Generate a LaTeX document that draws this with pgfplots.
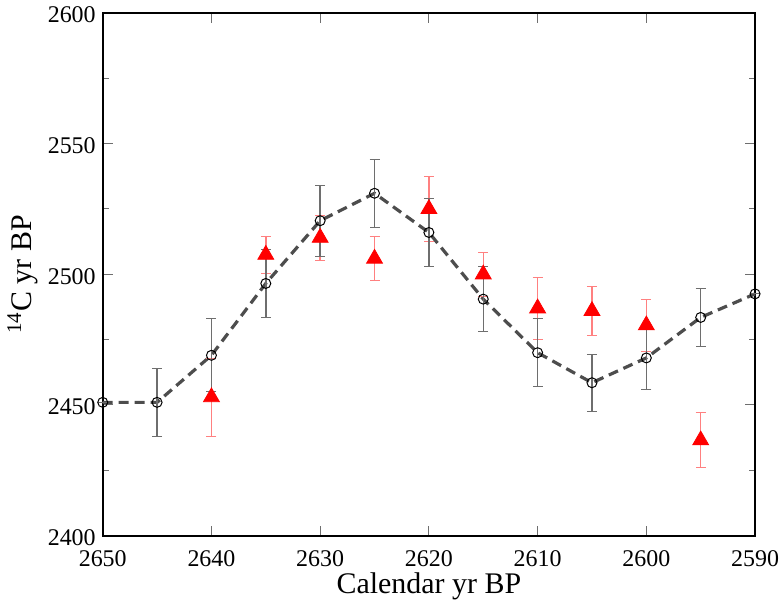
\documentclass[border=0pt]{standalone}
\usepackage{fontspec}
\setmainfont{Liberation Serif}
\usepackage{pgfplots}
\pgfplotsset{compat=1.18}
\definecolor{lineclr}{HTML}{4D4D4D}
\definecolor{errgray}{HTML}{6E6E6E}
\definecolor{errred}{HTML}{FF8080}
\begin{document}
\begin{tikzpicture}
\begin{axis}[
  name=ax,
  scale only axis,
  width=327pt, height=262pt,
  x dir=reverse,
  xmin=2590, xmax=2650,
  ymin=2400, ymax=2600,
  xtick={2590,2600,...,2650},
  ytick={2400,2450,...,2600},
  minor y tick num=1,
  tick align=inside,
  tick pos=both,
  major tick length=5pt,
  minor tick length=3pt,
  tick style={color=errgray, line width=0.5pt},
  axis line style={line width=1pt},
  /pgf/number format/assume math mode=true,
  /pgf/number format/1000 sep={},
  tick label style={font=\fontsize{12}{14}\selectfont},
  yticklabel style={yshift=-1pt},
  xticklabel style={yshift=-4pt},
  label style={font=\fontsize{15}{18}\selectfont},
  xlabel={Calendar yr BP},
  ylabel={\textsuperscript{14}C yr BP},
  xlabel style={yshift=4pt},
  ylabel style={yshift=-2pt},
  clip=false,
]
% dashed curve
\addplot[lineclr, line width=1.6pt, dash pattern=on 5pt off 3pt] coordinates {
  (2650,2451) (2645,2451) (2640,2469) (2635,2496.5) (2630,2520.5) (2625,2531)
  (2620,2516) (2615,2490.5) (2610,2470) (2605,2458.5) (2600,2468) (2595,2483.5) (2590,2492.5)
};
% red triangles with error bars
\addplot[only marks, mark=triangle*, mark size=4.6pt, color=red,
  error bars/.cd, y dir=both, y explicit,
  error bar style={color=errred, line width=0.7pt},
  error mark options={rotate=90, mark size=2.5pt, color=errred}]
  coordinates {
  (2640,2453) +- (0,15)
  (2635,2507.5) +- (0,7)
  (2630,2514) +- (0,8.5)
  (2625,2506) +- (0,8.5)
  (2620,2525) +- (0,12.5)
  (2615,2500) +- (0,8.5)
  (2610,2487) +- (0,12)
  (2605,2486) +- (0,9.5)
  (2600,2480.5) +- (0,10)
  (2595,2436.5) +- (0,10.5)
};
% black circles with error bars
\addplot[only marks, mark=o, mark size=2.5pt, color=black, mark options={line width=0.5pt},
  error bars/.cd, y dir=both, y explicit,
  error bar style={color=errgray, line width=0.7pt},
  error mark options={rotate=90, mark size=2.5pt, color=errgray}]
  coordinates {
  (2650,2451) +- (0,0)
  (2645,2451) +- (0,13)
  (2640,2469) +- (0,14)
  (2635,2496.5) +- (0,13)
  (2630,2520.5) +- (0,13.5)
  (2625,2531) +- (0,13)
  (2620,2516) +- (0,13)
  (2615,2490.5) +- (0,12.5)
  (2610,2470) +- (0,13)
  (2605,2458.5) +- (0,11)
  (2600,2468) +- (0,12)
  (2595,2483.5) +- (0,11)
  (2590,2492.5) +- (0,0)
};
\end{axis}
\pgfresetboundingbox
\path[use as bounding box] ([xshift=-51.5pt,yshift=-34pt]ax.south west) rectangle ([xshift=12.5pt,yshift=6.5pt]ax.north east);
\end{tikzpicture}
\end{document}
